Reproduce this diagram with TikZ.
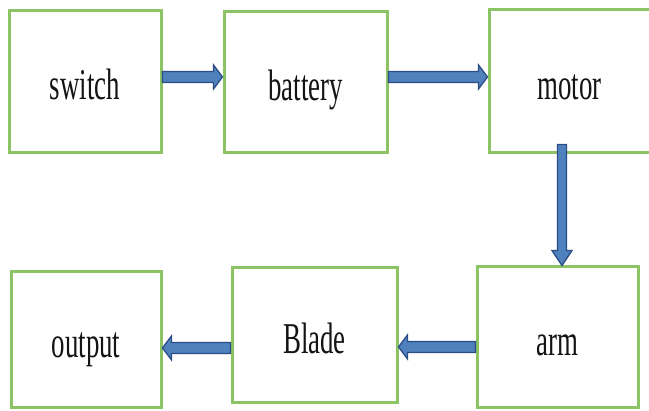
\documentclass[tikz,border=0pt]{standalone}
\usepackage{fontspec}
\setmainfont{Liberation Serif}
\usetikzlibrary{calc}
\definecolor{boxgreen}{RGB}{140,195,100}
\definecolor{arrowfill}{RGB}{79,129,189}
\definecolor{arrowline}{RGB}{44,77,135}
\newcommand\boxlbl[1]{\scalebox{0.61}[1]{#1}}
\tikzset{
  box/.style={draw=boxgreen, line width=3pt, fill=white, inner sep=0pt,
    text height=36pt, text depth=0pt,
    font=\fontsize{44}{48}\selectfont, text=black!92},
  barrow/.style n args={3}{fill=arrowfill, draw=arrowline, line width=1.3pt, line join=miter,
    to path={
      -- ($(\tikztostart)!#1!90:(\tikztotarget)$)
      -- ($($(\tikztotarget)!#3!(\tikztostart)$)!#1!90:(\tikztotarget)$)
      -- ($($(\tikztotarget)!#3!(\tikztostart)$)!#2!90:(\tikztotarget)$)
      -- (\tikztotarget)
      -- ($($(\tikztotarget)!#3!(\tikztostart)$)!#2!-90:(\tikztotarget)$)
      -- ($($(\tikztotarget)!#3!(\tikztostart)$)!#1!-90:(\tikztotarget)$)
      -- ($(\tikztostart)!#1!-90:(\tikztotarget)$)
      -- cycle}},
  harrow/.style={barrow={5.5pt}{12pt}{9pt}},
  varrow/.style={barrow={4.5pt}{10pt}{15pt}}
}
\begin{document}
\begin{tikzpicture}[x=1pt,y=1pt]
\useasboundingbox (0,0) rectangle (649,411);
\fill[white] (0,0) rectangle (649,411);
\node[box, minimum width=152pt, minimum height=142pt] (sw) at (85,329) {\boxlbl{switch}};
\node[box, minimum width=163pt, minimum height=141pt] (bat) at (305.5,328.5) {\boxlbl{battery}};
\node[box, minimum width=161pt, minimum height=143pt] (mot) at (569.5,329.5) {\boxlbl{motor}};
\node[box, minimum width=150pt, minimum height=136pt] (out) at (86,71) {\boxlbl{output}};
\node[box, minimum width=165pt, minimum height=135pt] (bl) at (314.5,75.5) {\boxlbl{Blade}};
\node[box, minimum width=161pt, minimum height=141pt] (arm) at (557.5,73.5) {\boxlbl{arm}};
\draw[harrow] ([yshift=5pt]sw.east) to ([yshift=5.5pt]bat.west);
\draw[harrow] ([yshift=5.5pt]bat.east) to ([yshift=4.5pt]mot.west);
\draw[varrow] ([xshift=-7.5pt,yshift=10pt]mot.south) to ([xshift=4.5pt]arm.north);
\draw[harrow] ([yshift=-9.5pt]arm.west) to ([yshift=-11.5pt]bl.east);
\draw[harrow] ([yshift=-12.5pt]bl.west) to ([yshift=-8pt]out.east);
\end{tikzpicture}
\end{document}
